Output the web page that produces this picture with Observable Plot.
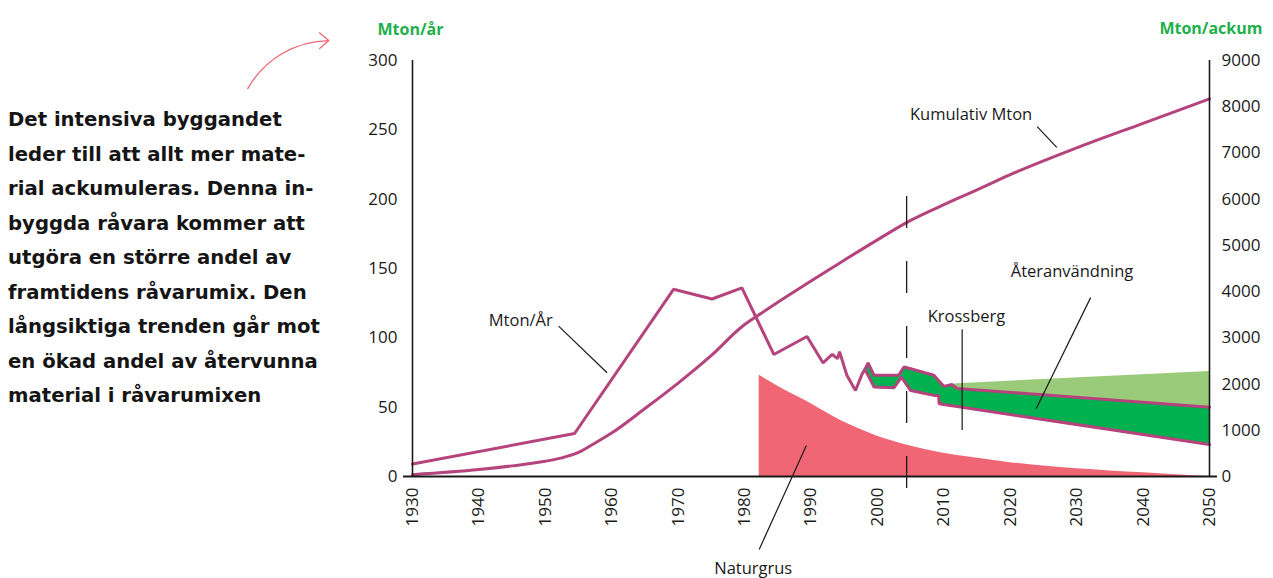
<!DOCTYPE html>
<html><head><meta charset="utf-8">
<script src="https://cdn.jsdelivr.net/npm/d3@7"></script>
<script src="https://cdn.jsdelivr.net/npm/@observablehq/plot@0.6"></script>
<style>
body{margin:0;background:#fff;}
#wrap{position:relative;width:1273px;height:578px;overflow:hidden;}
#chart{position:absolute;left:0;top:0;}
#note{position:absolute;left:8px;top:103px;font-family:"DejaVu Sans";font-weight:700;font-size:18px;line-height:34.5px;color:#151515;white-space:nowrap;}
#note span{display:inline-block;}
</style></head><body>
<div id="wrap"><div id="chart"></div><div id="note"></div></div>
<script>
// ---- data ----
const noteLines = ["Det intensiva byggandet","leder till att allt mer mate-","rial ackumuleras. Denna in-","byggda råvara kommer att","utgöra en större andel av","framtidens råvarumix. Den","långsiktiga trenden går mot","en ökad andel av återvunna","material i råvarumixen"];

const xTicks = [1930,1940,1950,1960,1970,1980,1990,2000,2010,2020,2030,2040,2050];
const leftTicks = [0,50,100,150,200,250,300];
const rightTicks = [0,1000,2000,3000,4000,5000,6000,7000,8000,9000];
const rightFactor = 30; // 9000 Mton ackum ↔ 300 Mton/år

// Mton/år (total) up to the split
const annualYears  = [1930,1954.4,1969.3,1975.1,1979.6,1984.4,1989.4,1991.8,1993.2,1994.0,1994.3,1995.4,1996.7,1997.7,1998.1];
const annualValues = [9,31,135,128,136,88,101,82,88,85,90,73,62,74,77];

// band after the split: upper (total) and lower edge
const bandYears = [1998.1,1998.6,1999.5,2002.5,2003.2,2003.6,2004.0,2005.0,2008.5,2009.2,2009.3,2010.0,2011.2,2012.0,2050];
const bandUpper = [77,82,73,73,73,76,79,77.7,73,69.3,68.7,65,66.3,63.5,50];
const bandLower = [77,73,64.5,64,68.8,71.6,68.9,62,58.5,58.4,52.4,51.9,51,50.5,23];

// light green (återanvändning potential)
const lightYears  = [2011.2,2012.0,2050];
const lightBottom = [66.3,63.5,50];
const lightTop    = [66.3,66.9,75.7];

// Naturgrus
const gravelYears  = [1982.2,1985,1989.4,1994.4,1999.5,2004.5,2009.5,2014,2020,2025,2030,2035,2040,2045,2050];
const gravelValues = [73,65,54,40.5,30,22.6,17.2,13.8,10,7.5,5.5,4,2.7,1.3,0];

// Kumulativ Mton (right axis)
const cumYears  = [1930,1940,1945,1950,1952.3,1955,1957.3,1959.8,1965,1970,1975,1979.5,1982.4,1985,1990,1995,2000,2005,2010,2015,2020,2030,2040,2050];
const cumValues = [40,150,230,330,397,520,707,923,1470,2020,2618,3230,3520,3770,4230,4680,5120,5540,5880,6200,6530,7110,7640,8170];

// annotations
const labelText = ["Kumulativ Mton","Mton/År","Krossberg","Återanvändning","Naturgrus"];
const labelX = [2014.1,1946.3,2013.4,2029.3,1981.3];
const labelY = [261,112.5,115.4,147.8,-66.3];
const pointerX1 = [2024.05,1952.0,2032.1,1989.3];
const pointerY1 = [252.3,108.4,129,22.3];
const pointerX2 = [2027.0,1959.3,2023.9,1982.2];
const pointerY2 = [237.4,74.8,48.8,-52.6];
const krossbergX = 2012.76, krossbergY = [105.8,33.2];
const dashedYear = 2004.4, dashedRange = [202,-10];
const arrowFrom = [1905.2,279.7], arrowTo = [1917.4,314.4];

// ---- colours ----
const magenta = "#b5437c", darkGreen = "#00b14f", lightGreen = "#9acb7b", red = "#f06674", titleGreen = "#1eb04b", ink = "#1a1a1a";

// note paragraph; scale font size so the first line is as wide as in the reference
const note = document.getElementById("note");
note.innerHTML = noteLines.map(l => `<span>${l}</span>`).join("<br>");
const firstSpan = note.querySelector("span");
const targetWidth = 274;
const w0 = firstSpan.getBoundingClientRect().width;
note.style.fontSize = (18 * targetWidth / w0).toFixed(2) + "px";

const upperLine = annualYears.map((x,i)=>({x, y: annualValues[i]}))
  .concat(bandYears.slice(1).map((x,i)=>({x, y: bandUpper[i+1]})));
const lowerLine = bandYears.map((x,i)=>({x, y: bandLower[i]}));
const band = bandYears.map((x,i)=>({x, lo: bandLower[i], hi: bandUpper[i]}));
const light = lightYears.map((x,i)=>({x, lo: lightBottom[i], hi: lightTop[i]}));
const gravel = gravelYears.map((x,i)=>({x, y: gravelValues[i]}));
const cum = cumYears.map((x,i)=>({x, y: cumValues[i] / rightFactor}));
const labels = labelText.map((t,i)=>({t, x: labelX[i], y: labelY[i]}));
const pointers = pointerX1.map((x1,i)=>({x1, y1: pointerY1[i], x2: pointerX2[i], y2: pointerY2[i]}));

const chart = Plot.plot({
  width: 1273, height: 578,
  marginLeft: 412, marginRight: 64, marginTop: 60, marginBottom: 102,
  style: {fontFamily: "Open Sans", fontSize: "17px", color: ink, background: "transparent"},
  x: {domain: [1930, 2050]},
  y: {domain: [0, 300]},
  marks: [
    Plot.areaY(gravel, {x: "x", y: "y", fill: red, curve: "monotone-x"}),
    Plot.areaY(light, {x: "x", y1: "lo", y2: "hi", fill: lightGreen}),
    Plot.areaY(band, {x: "x", y1: "lo", y2: "hi", fill: darkGreen}),
    Plot.line(upperLine, {x: "x", y: "y", stroke: magenta, strokeWidth: 3, strokeLinejoin: "miter"}),
    Plot.line(lowerLine, {x: "x", y: "y", stroke: magenta, strokeWidth: 3, strokeLinejoin: "miter"}),
    Plot.line(cum, {x: "x", y: "y", stroke: magenta, strokeWidth: 3, curve: "monotone-x"}),
    Plot.ruleX([dashedYear], {y1: dashedRange[0], y2: dashedRange[1], stroke: ink, strokeWidth: 1.3, strokeDasharray: "32,33"}),
    Plot.ruleX([krossbergX], {y1: krossbergY[0], y2: krossbergY[1], stroke: ink, strokeWidth: 1.2}),
    Plot.link(pointers, {x1: "x1", y1: "y1", x2: "x2", y2: "y2", stroke: ink, strokeWidth: 1.2}),
    Plot.text(labels, {x: "x", y: "y", text: "t", fill: ink, fontSize: 16.5}),
    Plot.arrow([0], {x1: arrowFrom[0], y1: arrowFrom[1], x2: arrowTo[0], y2: arrowTo[1], bend: 30, stroke: red, strokeWidth: 1.3, headLength: 14, headAngle: 80}),
    Plot.ruleX([1930, 2050], {y1: 0, y2: 300, stroke: ink, strokeWidth: 1.6}),
    Plot.ruleY([0], {x1: 1928.65, x2: 2051.2, stroke: ink, strokeWidth: 2}),
    Plot.axisX({ticks: xTicks, tickFormat: d => String(d), tickSize: 0, tickPadding: 11, tickRotate: -90, label: null}),
    Plot.axisY({anchor: "left", ticks: leftTicks, tickSize: 0, tickPadding: 15, label: null}),
    Plot.axisY({anchor: "right", ticks: rightTicks.map(t => t / rightFactor), tickFormat: d => String(Math.round(d * rightFactor)), tickSize: 0, tickPadding: 12, label: null}),
    Plot.text(["Mton/år"], {frameAnchor: "top-left", dx: -35, dy: -37, textAnchor: "start", fill: titleGreen, fontWeight: 700, fontSize: 16}),
    Plot.text(["Mton/ackum"], {frameAnchor: "top-right", dx: 53, dy: -38, textAnchor: "end", fill: titleGreen, fontWeight: 700, fontSize: 16})
  ]
});
document.getElementById("chart").appendChild(chart);
</script>
</body></html>
